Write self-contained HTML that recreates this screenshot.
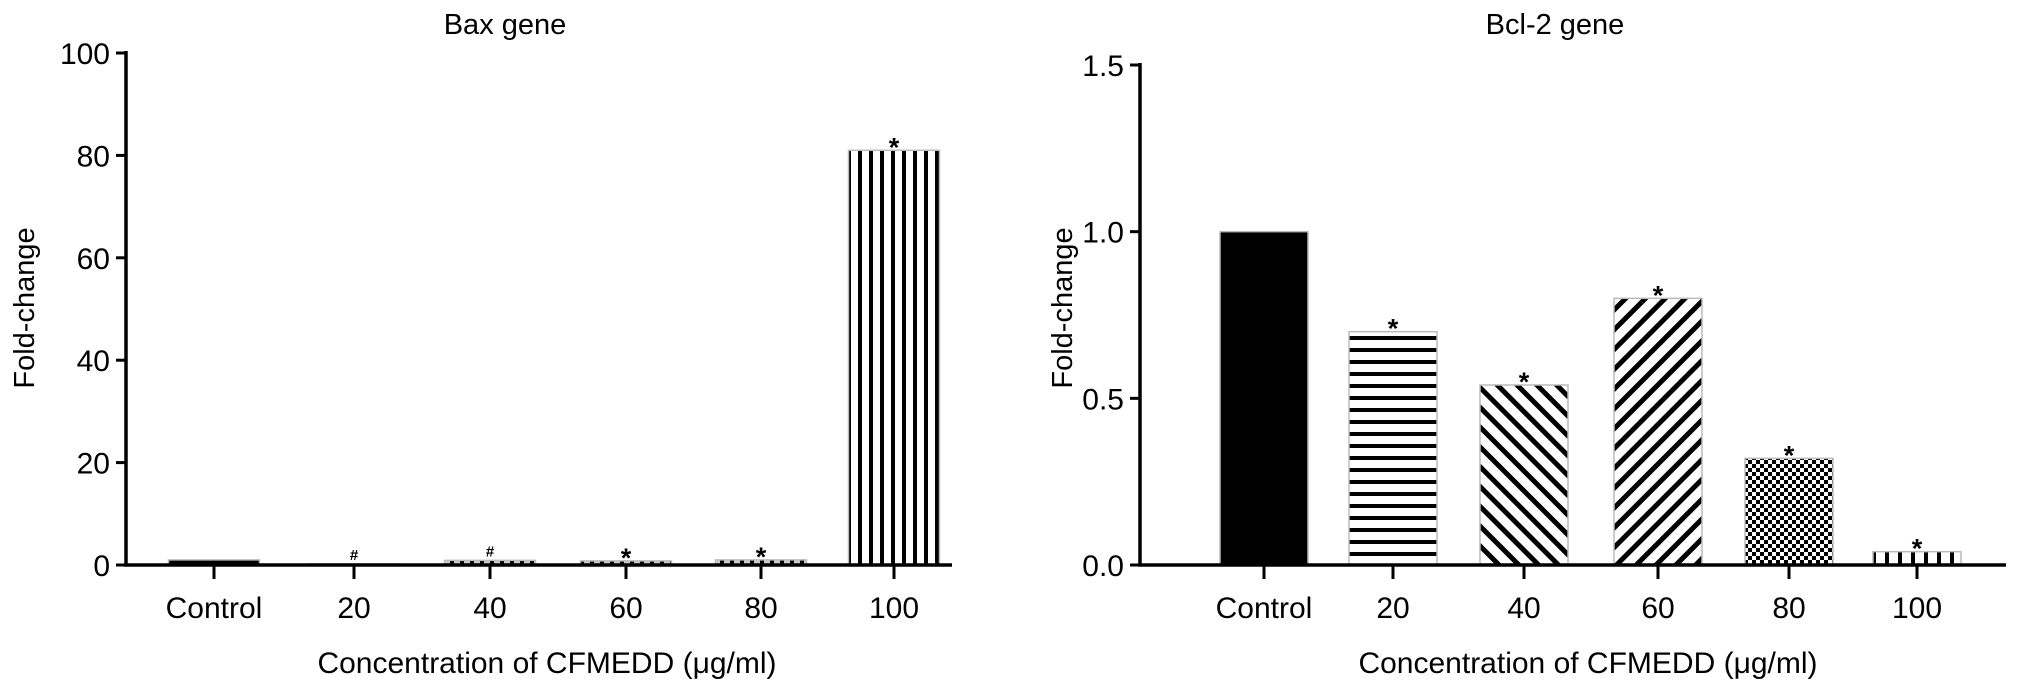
<!DOCTYPE html>
<html><head><meta charset="utf-8"><style>
html,body{margin:0;padding:0;background:#fff;}
svg{display:block;font-family:"Liberation Sans",sans-serif;}
</style></head><body>
<svg id="c" width="2032" height="692" viewBox="0 0 2032 692">
<defs>
<pattern id="pv" width="11" height="10" patternUnits="userSpaceOnUse"><rect width="11" height="10" fill="#fff"/><rect x="0" width="4" height="10" fill="#000"/></pattern>
<pattern id="ph" width="10" height="12" patternUnits="userSpaceOnUse"><rect width="10" height="12" fill="#fff"/><rect y="0" width="10" height="4" fill="#000"/></pattern>
<pattern id="pd1" width="14" height="14" patternUnits="userSpaceOnUse" patternTransform="rotate(-45)"><rect width="14" height="14" fill="#fff"/><rect width="5" height="14" fill="#000"/></pattern>
<pattern id="pd2" width="14" height="14" patternUnits="userSpaceOnUse" patternTransform="rotate(45)"><rect width="14" height="14" fill="#fff"/><rect width="5" height="14" fill="#000"/></pattern>
<pattern id="pc" width="8" height="8" patternUnits="userSpaceOnUse"><rect width="8" height="8" fill="#fff"/><rect width="4" height="4" fill="#000"/><rect x="4" y="4" width="4" height="4" fill="#000"/></pattern>
<pattern id="pdot" width="10" height="6" patternUnits="userSpaceOnUse"><rect width="10" height="6" fill="#ccc"/><rect width="4" height="6" fill="#000"/></pattern>
<pattern id="pv2" width="13" height="10" patternUnits="userSpaceOnUse"><rect width="13" height="10" fill="#fff"/><rect width="4" height="10" fill="#000"/></pattern>
</defs>
</svg>
<script>
const categories = ["Control","20","40","60","80","100"];
const baxValues = [1, 0.1, 0.9, 0.8, 1.0, 81];
const baxMarks = ["", "#", "#", "*", "*", "*"];
const baxTicks = [0,20,40,60,80,100];
const bclValues = [1.0, 0.70, 0.54, 0.80, 0.32, 0.04];
const bclMarks = ["", "*", "*", "*", "*", "*"];
const bclTicks = ["0.0","0.5","1.0","1.5"];

const svg = document.getElementById('c');
const NS = 'http://www.w3.org/2000/svg';
function mk(tag, attrs, parent){
  const e = document.createElementNS(NS, tag);
  for (const k in attrs) e.setAttribute(k, attrs[k]);
  (parent||svg).appendChild(e);
  return e;
}
function panel(o){
  const g = mk('g', {});
  
  
  const y = v => o.y0 - (v - 0) / o.max * (o.y0 - o.yTop);
  const t = mk('text', {x:o.titleX, y:34, 'font-size':29, 'text-anchor':'middle'}, g);
  t.textContent = o.title;
  
  
  o.values.forEach((v,i)=>{
    const cx = o.xs[i];
    const top = y(v);
    const h = Math.max(o.y0 - top, 1);
    const r = mk('rect', {x:cx-o.bw/2, y:o.y0-h, width:o.bw, height:h, fill:o.fills[i], stroke:'#bbb', 'stroke-width':1.5}, g);
    
    
    if (o.marks[i]) {
      const m = mk('text', {x:cx, y:(o.y0-h) - (o.marks[i]==='#'?4:-6), 'font-size':o.marks[i]==='#'?15:27, 'text-anchor':'middle', 'font-weight':'bold'}, g);
      m.textContent = o.marks[i];
      
      
    }
    mk('line', {x1:cx, x2:cx, y1:o.y0, y2:o.y0+14, stroke:'#000', 'stroke-width':3}, g);
    const lt = mk('text', {x:cx, y:618, 'font-size':30, 'text-anchor':'middle'}, g);
    lt.textContent = categories[i];
    
    
  });
  mk('line', {x1:o.ax, x2:o.ax, y1:o.yTop-2, y2:o.y0+1.5, stroke:'#000', 'stroke-width':3.5}, g);
  mk('line', {x1:o.ax-2, x2:o.axEnd, y1:o.y0, y2:o.y0, stroke:'#000', 'stroke-width':3.5}, g);
  o.ticks.forEach(tk=>{
    const yy = y(parseFloat(tk));
    mk('line', {x1:o.ax-10, x2:o.ax, y1:yy, y2:yy, stroke:'#000', 'stroke-width':3}, g);
    const tl = mk('text', {x:o.ax-16, y:yy+11, 'font-size':30, 'text-anchor':'end'}, g);
    tl.textContent = tk;
    
    
  });
  const xt = mk('text', {x:o.xtX, y:673, 'font-size':30, 'text-anchor':'middle'}, g);
  xt.textContent = 'Concentration of CFMEDD (\u03bcg/ml)';
  
  
  const yt = mk('text', {x:0, y:0, 'font-size':29, 'text-anchor':'middle', transform:`translate(${o.ytX},${o.ytY}) rotate(-90)`}, g);
  yt.textContent = 'Fold-change';
  
  
}
panel({name:'bax-chart', title:'Bax gene', titleX:505, ax:126, axEnd:952, y0:565, yTop:53, max:100,
  xs:[214,354,490,626,761,894], bw:91, values:baxValues, marks:baxMarks, ticks:baxTicks.map(String),
  fills:['#000','#000','url(#pdot)','url(#pdot)','url(#pdot)','url(#pv)'], xtX:547, ytX:34, ytY:308});
panel({name:'bcl2-chart', title:'Bcl-2 gene', titleX:1555, ax:1140, axEnd:2006, y0:565, yTop:65, max:1.5,
  xs:[1264,1393,1524,1658,1789,1917], bw:88, values:bclValues, marks:bclMarks, ticks:bclTicks,
  fills:['#000','url(#ph)','url(#pd1)','url(#pd2)','url(#pc)','url(#pv2)'], xtX:1588, ytX:1072, ytY:308});
</script>
</body></html>
